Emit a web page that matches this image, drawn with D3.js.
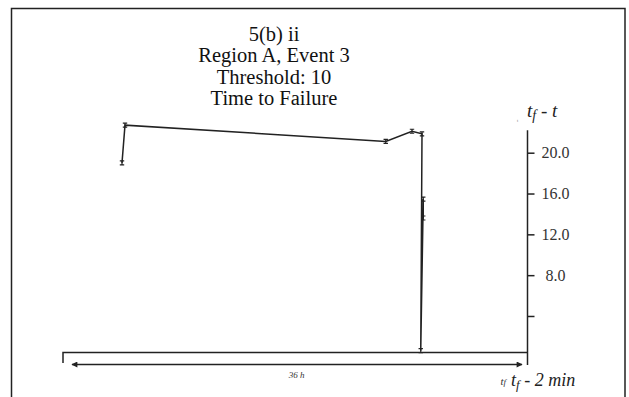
<!DOCTYPE html>
<html><head><meta charset="utf-8">
<script src="https://cdn.jsdelivr.net/npm/d3@7"></script>
<style>
html,body{margin:0;padding:0;background:#fff;}
svg{display:block;}
text{font-family:"Liberation Serif","DejaVu Serif",serif;}
</style></head>
<body>
<svg id="c" width="629" height="397"></svg>
<script>
// ---- data ----
const titleLines = ["5(b) ii", "Region A, Event 3", "Threshold: 10", "Time to Failure"];
const hours = [4.0, 4.24, 25.1, 27.2, 28.0, 27.9, 28.1, 28.1];        // hours from start of 36 h window
const timeToFailure = [19.0, 22.7, 21.1, 22.1, 21.85, 0.6, 15.45, 13.6]; // tf - t
const yTicks = [4, 8, 12, 16, 20];
const yTickLabels = ["", "8.0", "12.0", "16.0", "20.0"];
const spanLabel = "36 h";
const spanHours = 36;

const svg = d3.select("#c");
const W = 629, H = 397;

// frame
svg.append("path")
  .attr("d", `M11.5,${H} V8.5 H625 V${H}`)
  .attr("fill", "none").attr("stroke", "#222").attr("stroke-width", 1.5);

// title (separate text elements)
titleLines.forEach((t, i) => {
  svg.append("text").attr("x", 274).attr("y", 41 + i * 21.3)
    .attr("text-anchor", "middle").attr("fill", "#111")
    .attr("font-size", 20.5).text(t);
});

// scales
const x = d3.scaleLinear().domain([0, spanHours]).range([72, 522]);
const y = d3.scaleLinear().domain([0, 20]).range([356.8, 152.7]);

const axisX = 527.5;
const baseY = 352.5;

// right axis
const yAxis = d3.axisRight(y).tickValues(yTicks).tickSize(7)
  .tickFormat((d, i) => yTickLabels[i]);
const gA = svg.append("g").attr("transform", `translate(${axisX},0)`).call(yAxis);
gA.select(".domain").remove();
gA.selectAll(".tick line").attr("stroke", "#222").attr("stroke-width", 1.5);
gA.selectAll(".tick text").attr("x", 28).attr("text-anchor", "middle")
  .attr("font-size", 16).attr("fill", "#333")
  .attr("font-family", "Liberation Serif, serif");
svg.append("line").attr("x1", axisX).attr("x2", axisX)
  .attr("y1", y(22.2)).attr("y2", 365)
  .attr("stroke", "#222").attr("stroke-width", 1.5);

// axis label tf - t
const lab = svg.append("text").attr("x", 527).attr("y", 117)
  .attr("font-style", "italic").attr("font-size", 19).attr("fill", "#222");
lab.append("tspan").text("t");
lab.append("tspan").attr("font-size", 14).attr("dy", 3).text("f");
lab.append("tspan").attr("dy", -3).text(" - t");
svg.append("text").attr("x", 517).attr("y", 122).attr("font-size", 4)
  .attr("fill", "#777").text("t");

// baseline
svg.append("path")
  .attr("d", `M${x(-0.72)},363 V${baseY} H${axisX}`)
  .attr("fill", "none").attr("stroke", "#222").attr("stroke-width", 1.5);

// double arrow for span
const ay = 364.5;
svg.append("defs").html(`
<marker id="ah" viewBox="0 0 10 10" refX="9" refY="5" markerWidth="10" markerHeight="6" orient="auto-start-reverse" markerUnits="userSpaceOnUse">
<path d="M0,0 L10,5 L0,10 z" fill="#222"/></marker>`);
svg.append("line").attr("x1", x(0)).attr("x2", x(spanHours))
  .attr("y1", ay).attr("y2", ay)
  .attr("stroke", "#222").attr("stroke-width", 1.5)
  .attr("marker-start", "url(#ah)").attr("marker-end", "url(#ah)");
svg.append("text").attr("x", (x(0) + x(spanHours)) / 2 - 0.5).attr("y", 378)
  .attr("text-anchor", "middle").attr("font-style", "italic")
  .attr("font-size", 9).attr("fill", "#333").text(spanLabel);

// bottom labels
const tf1 = svg.append("text").attr("x", 500.5).attr("y", 385)
  .attr("font-style", "italic").attr("font-size", 11).attr("fill", "#333");
tf1.append("tspan").text("t");
tf1.append("tspan").attr("font-size", 9).text("f");
const tf2 = svg.append("text").attr("x", 511).attr("y", 386)
  .attr("font-style", "italic").attr("font-size", 18).attr("fill", "#222");
tf2.append("tspan").text("t");
tf2.append("tspan").attr("font-size", 13).attr("dy", 3).text("f");
tf2.append("tspan").attr("dy", -3).text(" - 2 min");

// data line
const pts = hours.map((h, i) => [x(h), y(timeToFailure[i])]);
svg.append("path").attr("d", d3.line()(pts))
  .attr("fill", "none").attr("stroke", "#222").attr("stroke-width", 1.5)
  .attr("stroke-linejoin", "miter");

// I-beam markers
const mk = svg.append("g").attr("stroke", "#222").attr("stroke-width", 1.2);
pts.forEach(([px, py]) => {
  mk.append("path").attr("d", `M${px - 2.2},${py - 2} H${px + 2.2} M${px},${py - 2} V${py + 2} M${px - 2.2},${py + 2} H${px + 2.2}`);
});
</script>
</body></html>
